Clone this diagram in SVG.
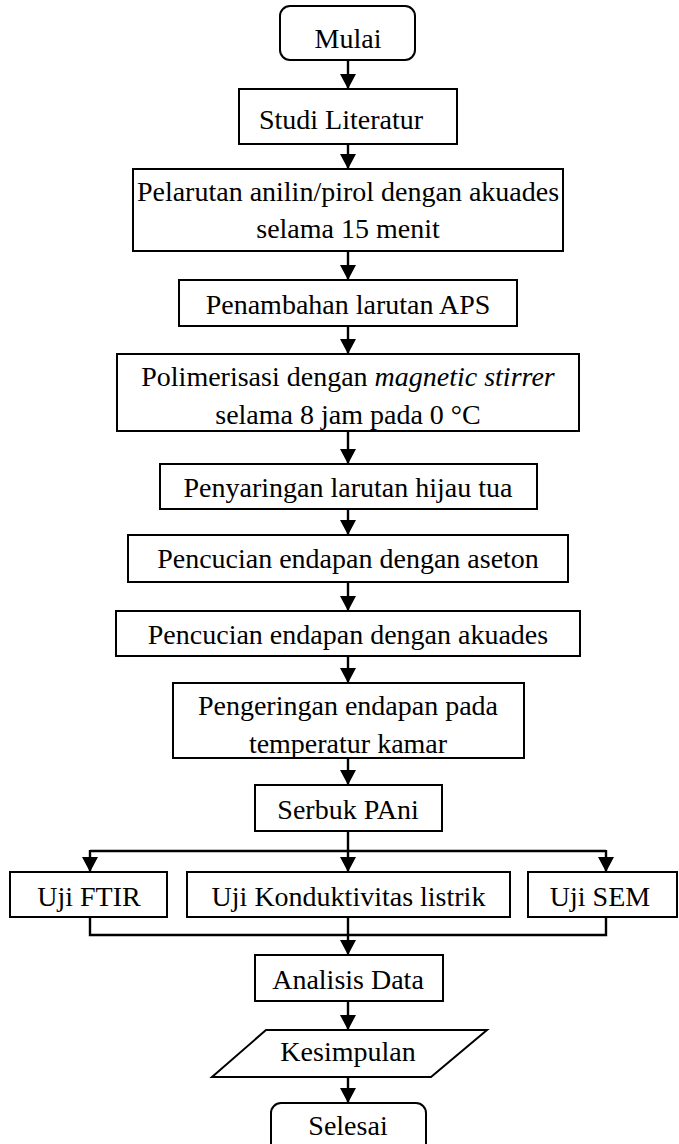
<svg xmlns="http://www.w3.org/2000/svg" width="679" height="1144" viewBox="0 0 679 1144">
<style>
.box{fill:#fff;stroke:#000;stroke-width:2}
.t{font-family:"Liberation Serif","Times New Roman",serif;font-size:28px;fill:#000;text-anchor:middle}
.c{stroke:#000;stroke-width:2.4;fill:none}
</style>
<defs>
<marker id="ah" markerWidth="15" markerHeight="16" refX="15" refY="8" orient="auto" markerUnits="userSpaceOnUse"><path d="M0,0 L15,8 L0,16 z" fill="#000"/></marker>
</defs>
<rect width="679" height="1144" fill="#fff"/>
<g id="connectors">
<line class="c" x1="348" y1="60" x2="348" y2="89" marker-end="url(#ah)"/>
<line class="c" x1="348" y1="144" x2="348" y2="169" marker-end="url(#ah)"/>
<line class="c" x1="348" y1="251" x2="348" y2="280" marker-end="url(#ah)"/>
<line class="c" x1="348" y1="326" x2="348" y2="354" marker-end="url(#ah)"/>
<line class="c" x1="348" y1="431" x2="348" y2="464" marker-end="url(#ah)"/>
<line class="c" x1="348" y1="509" x2="348" y2="535" marker-end="url(#ah)"/>
<line class="c" x1="348" y1="582" x2="348" y2="611" marker-end="url(#ah)"/>
<line class="c" x1="348" y1="656" x2="348" y2="683" marker-end="url(#ah)"/>
<line class="c" x1="348" y1="758" x2="348" y2="785" marker-end="url(#ah)"/>
<line class="c" x1="348" y1="831" x2="348" y2="851"/>
<line class="c" x1="90" y1="851" x2="606" y2="851"/>
<line class="c" x1="90" y1="850" x2="90" y2="872" marker-end="url(#ah)"/>
<line class="c" x1="348" y1="850" x2="348" y2="872" marker-end="url(#ah)"/>
<line class="c" x1="606" y1="850" x2="606" y2="872" marker-end="url(#ah)"/>
<polyline class="c" points="90,917 90,935 606,935 606,917"/>
<line class="c" x1="348" y1="917" x2="348" y2="955" marker-end="url(#ah)"/>
<line class="c" x1="348" y1="1001" x2="348" y2="1030" marker-end="url(#ah)"/>
<line class="c" x1="348" y1="1077" x2="348" y2="1103" marker-end="url(#ah)"/>
</g>
<g id="mulai"><rect class="box" x="280" y="6" width="135" height="54" rx="10"/><text class="t" x="348" y="48">Mulai</text></g>
<g id="studi"><rect class="box" x="239" y="89" width="218" height="55"/><text class="t" x="341" y="129">Studi Literatur</text></g>
<g id="pelarutan"><rect class="box" x="133" y="169" width="430" height="82"/><text class="t" x="348" y="201">Pelarutan anilin/pirol dengan akuades</text><text class="t" x="348" y="238">selama 15 menit</text></g>
<g id="penambahan"><rect class="box" x="179" y="280" width="338" height="46"/><text class="t" x="348" y="314">Penambahan larutan APS</text></g>
<g id="polimerisasi"><rect class="box" x="117" y="354" width="462" height="77"/><text class="t" x="348" y="386">Polimerisasi dengan <tspan font-style="italic">magnetic stirrer</tspan></text><text class="t" x="348" y="424">selama 8 jam pada 0 °C</text></g>
<g id="penyaringan"><rect class="box" x="160" y="464" width="377" height="45"/><text class="t" x="348" y="497">Penyaringan larutan hijau tua</text></g>
<g id="pencucian-aseton"><rect class="box" x="128" y="535" width="440" height="47"/><text class="t" x="348" y="568">Pencucian endapan dengan aseton</text></g>
<g id="pencucian-akuades"><rect class="box" x="116" y="611" width="464" height="45"/><text class="t" x="348" y="644">Pencucian endapan dengan akuades</text></g>
<g id="pengeringan"><rect class="box" x="173" y="683" width="351" height="75"/><text class="t" x="348" y="715">Pengeringan endapan pada</text><text class="t" x="348" y="753">temperatur kamar</text></g>
<g id="serbuk"><rect class="box" x="255" y="785" width="187" height="46"/><text class="t" x="348" y="819">Serbuk PAni</text></g>
<g id="ftir"><rect class="box" x="10" y="872" width="157" height="45"/><text class="t" x="89" y="906">Uji FTIR</text></g>
<g id="konduktivitas"><rect class="box" x="187" y="872" width="323" height="45"/><text class="t" x="348.5" y="906">Uji Konduktivitas listrik</text></g>
<g id="sem"><rect class="box" x="528" y="872" width="149" height="45"/><text class="t" x="600" y="906">Uji SEM</text></g>
<g id="analisis"><rect class="box" x="255" y="955" width="188" height="46"/><text class="t" x="348" y="989">Analisis Data</text></g>
<g id="kesimpulan"><polygon class="box" points="266,1030 487,1030 431,1077 212,1077"/><text class="t" x="348" y="1061">Kesimpulan</text></g>
<g id="selesai"><rect class="box" x="271" y="1103" width="155" height="55" rx="10"/><text class="t" x="348" y="1135">Selesai</text></g>
</svg>
